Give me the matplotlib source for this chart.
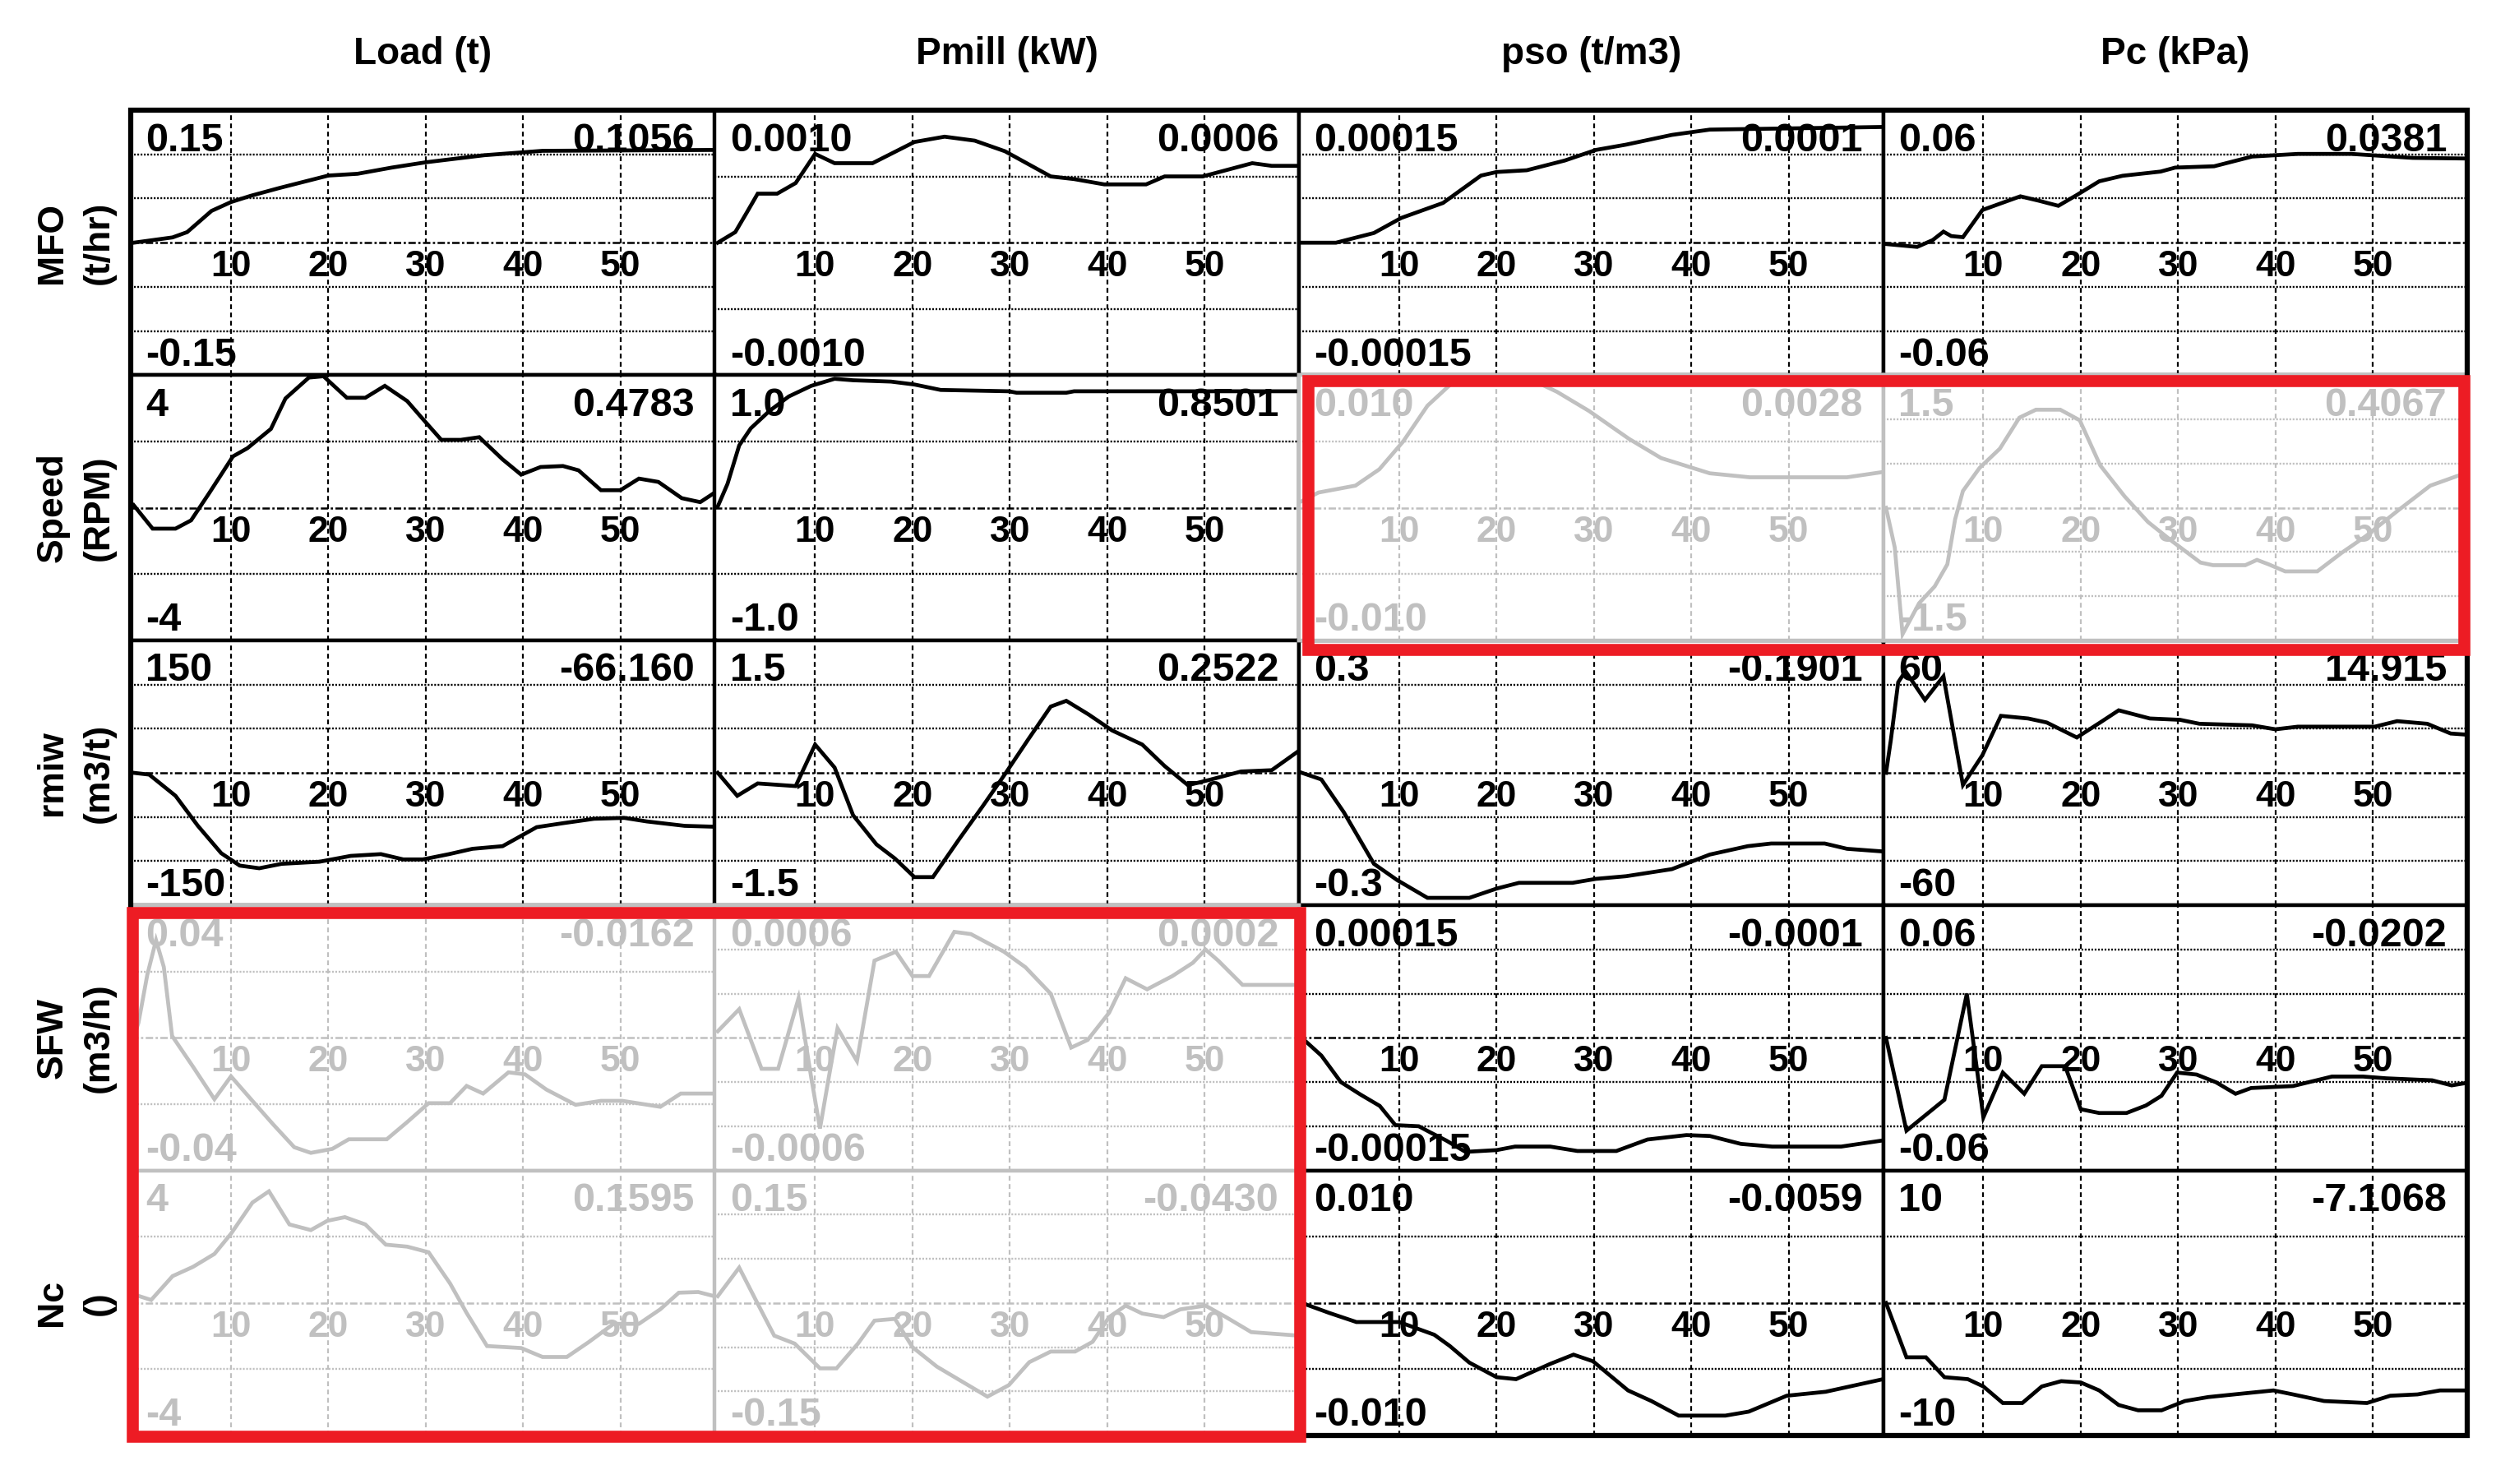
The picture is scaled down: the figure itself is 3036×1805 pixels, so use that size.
import matplotlib
matplotlib.use("Agg")
import matplotlib.pyplot as plt
from matplotlib.patches import Rectangle

plt.rcParams['font.family'] = ['Liberation Sans', 'DejaVu Sans']
plt.rcParams['font.weight'] = 'bold'

# column (input) and row (output) names
inputs = ["Load (t)", "Pmill (kW)", "pso (t/m3)", "Pc (kPa)"]
outputs = ["MFO", "Speed", "rmiw", "SFW", "Nc"]
output_units = ["(t/hr)", "(RPM)", "(m3/t)", "(m3/h)", "()"]

# axis limits (+/-) and grid spacing for each cell
y_max = [[0.15, 0.0010, 0.00015, 0.06],
         [4, 1.0, 0.010, 1.5],
         [150, 1.5, 0.3, 60],
         [0.04, 0.0006, 0.00015, 0.06],
         [4, 0.15, 0.010, 10]]
grid_step = [[0.05, 0.0005, 0.00005, 0.02],
             [2, 0.5, 0.005, 0.5],
             [50, 0.5, 0.1, 20],
             [0.02, 0.0002, 0.00005, 0.02],
             [2, 0.05, 0.005, 5]]

max_text = [["0.15", "0.0010", "0.00015", "0.06"],
            ["4", "1.0", "0.010", "1.5"],
            ["150", "1.5", "0.3", "60"],
            ["0.04", "0.0006", "0.00015", "0.06"],
            ["4", "0.15", "0.010", "10"]]
min_text = [["-0.15", "-0.0010", "-0.00015", "-0.06"],
            ["-4", "-1.0", "-0.010", "-1.5"],
            ["-150", "-1.5", "-0.3", "-60"],
            ["-0.04", "-0.0006", "-0.00015", "-0.06"],
            ["-4", "-0.15", "-0.010", "-10"]]
final_text = [["0.1056", "0.0006", "0.0001", "0.0381"],
              ["0.4783", "0.8501", "0.0028", "0.4067"],
              ["-66.160", "0.2522", "-0.1901", "14.915"],
              ["-0.0162", "0.0002", "-0.0001", "-0.0202"],
              ["0.1595", "-0.0430", "-0.0059", "-7.1068"]]

x_ticks = [10, 20, 30, 40, 50]

# greyed-out cells (row, col)
greyed = [(1, 2), (1, 3), (3, 0), (3, 1), (4, 0), (4, 1)]

# step responses
t_mfo_load = [0, 2, 4, 5.5, 8, 10, 12, 15, 20, 23, 26.5, 30, 33, 36, 42, 60]
y_mfo_load = [0, 0.003, 0.006, 0.012, 0.036, 0.046, 0.053, 0.062, 0.076, 0.078, 0.085, 0.091, 0.095, 0.099, 0.104, 0.105]

t_mfo_pmill = [0, 1.8, 3, 4.1, 6.1, 8, 10, 12, 15.9, 20.2, 23.3, 26.4, 29.5, 34.2, 36.6, 39.7, 44, 45.9, 49.8, 54.9, 56.9, 59.7]
y_mfo_pmill = [0, 0.00008, 0.00023, 0.00037, 0.00037, 0.00045, 0.00067, 0.0006, 0.0006, 0.00076, 0.0008, 0.00077,
               0.00069, 0.0005, 0.00048, 0.00044, 0.00044, 0.0005, 0.0005, 0.0006, 0.00058, 0.00058]

t_mfo_pso = [0, 3.5, 7.4, 10.2, 14.5, 18.4, 20, 23.1, 27, 30.2, 33.3, 38, 41.9, 59.7]
y_mfo_pso = [0, 0, 0.000011, 0.000028, 0.000045, 0.000076, 0.00008, 0.000082, 0.000093, 0.000105, 0.000111,
             0.000122, 0.000128, 0.000131]

t_mfo_pc = [0, 3.2, 4.8, 5.9, 6.7, 7.9, 9.9, 13.8, 15.7, 17.7, 19.6, 21.9, 24.3, 28.2, 29.7, 33.7, 37.6, 42.3, 47.8, 54.1, 59.9]
y_mfo_pc = [-0.0006, -0.0019, 0.0012, 0.005, 0.003, 0.0025, 0.0148, 0.021, 0.019, 0.0167, 0.0216, 0.0278, 0.0303,
            0.0322, 0.034, 0.0346, 0.039, 0.0402, 0.0402, 0.0384, 0.0381]

t_speed_load = [0, 1.95, 4.3, 5.9, 7.8, 10.2, 11.7, 14.1, 15.6, 18, 19.5, 21.9, 23.8, 25.8, 28.1, 29.7, 31.6, 33.6,
                35.5, 37.9, 39.8, 41.8, 44.1, 45.7, 48, 50, 51.9, 53.9, 56.3, 58.2, 59.7]
y_speed_load = [0.08, -0.63, -0.63, -0.38, 0.46, 1.55, 1.8, 2.38, 3.3, 3.93, 3.97, 3.32, 3.32, 3.68, 3.22, 2.68, 2.05,
                2.05, 2.13, 1.46, 1.0, 1.23, 1.26, 1.13, 0.53, 0.53, 0.88, 0.78, 0.29, 0.17, 0.46]

t_speed_pmill = [0, 1, 2.2, 3.4, 5.3, 7.3, 9.6, 12, 13.9, 17.8, 20.2, 22.9, 29.9, 30.7, 35.8, 36.6, 59.7]
y_speed_pmill = [0.01, 0.18, 0.47, 0.6, 0.73, 0.84, 0.92, 0.973, 0.962, 0.952, 0.93, 0.889, 0.879, 0.868, 0.868, 0.879, 0.879]

t_speed_pso = [0, 1.7, 5.5, 7.95, 10.4, 12.9, 15.4, 16.6, 22.9, 26.2, 29.5, 33.6, 36.9, 41.9, 46, 56, 59.7]
y_speed_pso = [0.0005, 0.00115, 0.00167, 0.0029, 0.005, 0.0077, 0.0094, 0.0099, 0.0099, 0.00875, 0.0073, 0.0052,
               0.00375, 0.0026, 0.0023, 0.0023, 0.0027]

t_speed_pc = [0, 0.9, 1.7, 3.4, 5, 6.3, 7.1, 7.9, 9.6, 11.7, 13.7, 15.4, 17.9, 19.9, 22, 24.5, 26.9, 29.4, 32.3, 33.6,
              36.9, 38.1, 39.3, 41, 44.3, 46.8, 49.3, 52.6, 55.9, 59.7]
y_speed_pc = [0, -0.45, -1.43, -1.08, -0.89, -0.64, -0.13, 0.19, 0.45, 0.67, 1.02, 1.11, 1.11, 0.99, 0.48, 0.13, -0.16,
              -0.38, -0.62, -0.65, -0.65, -0.59, -0.64, -0.72, -0.72, -0.51, -0.32, -0.03, 0.25, 0.4]

t_rmiw_load = [0, 1.6, 4.3, 6.6, 9, 10.9, 12.9, 15.2, 19.1, 22.3, 25.4, 27.7, 29.7, 32.4, 34.8, 37.9, 41.4, 44.1,
               47.3, 50.4, 52.7, 56.6, 59.7]
y_rmiw_load = [0, -2, -26, -60, -91, -105, -108, -103, -100.6, -94, -92, -98, -98, -92, -86, -83, -61.5, -57, -52,
               -51, -55, -60, -61]

t_rmiw_pmill = [0, 2, 4.1, 8, 10, 12, 13.9, 16.3, 18.2, 20.2, 22.1, 24.8, 27.2, 29.5, 31.9, 34.2, 35.8, 38.1, 40.5,
                43.6, 45.9, 48.3, 50.6, 53.75, 56.9, 59.7]
y_rmiw_pmill = [0, -0.26, -0.12, -0.15, 0.32, 0.06, -0.48, -0.81, -0.97, -1.18, -1.18, -0.75, -0.38, -0.015, 0.38,
                0.75, 0.815, 0.66, 0.48, 0.32, 0.077, -0.14, -0.077, 0.015, 0.03, 0.25]

t_rmiw_pso = [0, 2, 4.3, 7.4, 9.8, 12.9, 17.2, 20, 22.3, 27.8, 30.2, 33.3, 38, 41.9, 45.8, 48.2, 53.7, 56, 59.7]
y_rmiw_pso = [0.0, -0.015, -0.089, -0.206, -0.243, -0.283, -0.283, -0.262, -0.249, -0.249, -0.24, -0.234, -0.218,
              -0.185, -0.166, -0.16, -0.16, -0.172, -0.178]

t_rmiw_pc = [0, 0.5, 1.25, 2, 4, 5.9, 7.9, 9.9, 11.8, 14.6, 16.5, 19.6, 22, 23.9, 27.1, 30.2, 32.2, 37.6, 40, 42.3,
             50.2, 52.5, 55.6, 58, 59.9]
y_rmiw_pc = [0, 15, 41, 46, 33, 43.7, -5.5, 8, 25.8, 24.6, 22.8, 16, 22.8, 28.3, 24.6, 24, 22.2, 21.5, 19.7, 20.9,
             20.9, 23.4, 22.2, 17.8, 17.2]

t_sfw_load = [0, 0.5, 1.4, 2.3, 3.1, 3.95, 6.1, 8.3, 10, 12.2, 14.3, 16.5, 18.2, 20.4, 22.1, 26, 28.1, 30.3, 32.5,
              34.2, 35.9, 38.5, 40.2, 42.4, 45.4, 48, 50.2, 54.1, 56.2, 59.7]
y_sfw_load = [0, 0.0046, 0.019, 0.0295, 0.0214, 0.0006, -0.0087, -0.0185, -0.0116, -0.019, -0.026, -0.033, -0.0347,
              -0.0335, -0.0306, -0.0306, -0.0254, -0.0197, -0.0197, -0.0145, -0.0168, -0.0104, -0.011, -0.0156,
              -0.0202, -0.019, -0.019, -0.0208, -0.0168, -0.0168]

t_sfw_pmill = [0, 2.2, 4.5, 6.2, 8.3, 9.6, 10.5, 11.4, 12.3, 14.3, 16.1, 18.3, 20, 21.7, 24.3, 26, 29.4, 31.6, 34.2,
               36.3, 38, 40.2, 41.9, 44.1, 46.7, 48.8, 50.1, 51.4, 53.9, 59.7]
y_sfw_pmill = [0.00003, 0.00013, -0.00014, -0.00014, 0.00018, -0.00018, -0.00041, -0.00018, 0.000044, -0.000105,
               0.00035, 0.00039, 0.00028, 0.00028, 0.00048, 0.00047, 0.00039, 0.00032, 0.0002, -0.000044,
               -0.000009, 0.000114, 0.00027, 0.00022, 0.00028, 0.00034, 0.0004, 0.00035, 0.00024, 0.00024]

t_sfw_pso = [0, 2, 4, 6, 8, 9.6, 12, 13.2, 14.8, 16.8, 20, 21.9, 25.5, 28.3, 32.3, 35.5, 39.5, 41.9, 45.1, 48.3, 55.4, 59.7]
y_sfw_pso = [0, -0.00002, -0.00005, -0.000064, -0.000077, -0.0000987, -0.0001, -0.000107, -0.000116, -0.000129,
             -0.000127, -0.000123, -0.000123, -0.000128, -0.000128, -0.000115, -0.00011, -0.000111, -0.00012,
             -0.000123, -0.000123, -0.000116]

t_sfw_pc = [0, 2.1, 6, 8.3, 10, 12, 14.2, 16, 18.4, 20, 21.9, 24.7, 26.7, 28.3, 29.9, 31.9, 33.9, 35.9, 37.5, 41.8,
            45.8, 49, 51.4, 56.1, 58.1, 60]
y_sfw_pc = [0, -0.042, -0.028, 0.020, -0.036, -0.0157, -0.0253, -0.0128, -0.0128, -0.0323, -0.034, -0.034, -0.0306,
            -0.0262, -0.0157, -0.0166, -0.0201, -0.0253, -0.0227, -0.0218, -0.0175, -0.0175, -0.0183, -0.0192,
            -0.0215, -0.0201]

t_nc_load = [0, 1.8, 4, 6.1, 8.3, 10, 12.2, 13.9, 16, 18.2, 19.9, 21.7, 23.8, 25.9, 28.1, 30.3, 32.5, 34.2, 36.3,
             39.8, 42, 44.5, 46.7, 49.3, 51.9, 54.1, 56, 58, 59.7]
y_nc_load = [0.26, 0.09, 0.81, 1.09, 1.48, 2.09, 3.03, 3.37, 2.37, 2.2, 2.48, 2.59, 2.37, 1.76, 1.7, 1.53, 0.59,
             -0.3, -1.3, -1.36, -1.63, -1.63, -1.19, -0.63, -0.63, -0.19, 0.31, 0.33, 0.2]

t_nc_pmill = [0, 2.2, 4, 5.8, 7.9, 10.5, 12.2, 14.4, 16.1, 18.2, 20, 22.5, 25.1, 27.7, 29.9, 32, 34.2, 36.7, 38.5,
              40.2, 41.9, 43.6, 45.8, 47.5, 50.1, 52.2, 54.8, 59.7]
y_nc_pmill = [0.0077, 0.04, 0.0013, -0.037, -0.046, -0.074, -0.074, -0.046, -0.02, -0.018, -0.05, -0.072, -0.089,
              -0.106, -0.093, -0.067, -0.055, -0.055, -0.044, -0.016, -0.003, -0.012, -0.016, -0.0073, -0.003,
              -0.016, -0.033, -0.037]

t_nc_pso = [0, 2.8, 5.6, 10, 13.6, 15.2, 17.2, 20, 22, 25.5, 27.9, 29.9, 33.5, 35.9, 38.7, 43.5, 45.9, 49.8, 53.8, 59.7]
y_nc_pso = [0, -0.00075, -0.00144, -0.00144, -0.0024, -0.00325, -0.0045, -0.0056, -0.00575, -0.0046, -0.0039,
            -0.0044, -0.0066, -0.0074, -0.0085, -0.0085, -0.0082, -0.007, -0.0067, -0.00575]

t_nc_pc = [0, 2.1, 4.1, 6, 8.4, 10, 12, 14, 16, 18, 20, 21.9, 23.9, 25.9, 28.3, 30.7, 33.1, 37.1, 39.8, 41.8, 45,
           49.4, 51.8, 54.6, 56.9, 60]
y_nc_pc = [0, -4.1, -4.1, -5.6, -5.75, -6.3, -7.55, -7.55, -6.3, -5.9, -6.0, -6.6, -7.7, -8.1, -8.1, -7.4, -7.1,
           -6.8, -6.6, -6.9, -7.4, -7.55, -7.0, -6.9, -6.6, -6.6]

curves = [[(t_mfo_load, y_mfo_load), (t_mfo_pmill, y_mfo_pmill), (t_mfo_pso, y_mfo_pso), (t_mfo_pc, y_mfo_pc)],
          [(t_speed_load, y_speed_load), (t_speed_pmill, y_speed_pmill), (t_speed_pso, y_speed_pso), (t_speed_pc, y_speed_pc)],
          [(t_rmiw_load, y_rmiw_load), (t_rmiw_pmill, y_rmiw_pmill), (t_rmiw_pso, y_rmiw_pso), (t_rmiw_pc, y_rmiw_pc)],
          [(t_sfw_load, y_sfw_load), (t_sfw_pmill, y_sfw_pmill), (t_sfw_pso, y_sfw_pso), (t_sfw_pc, y_sfw_pc)],
          [(t_nc_load, y_nc_load), (t_nc_pmill, y_nc_pmill), (t_nc_pso, y_nc_pso), (t_nc_pc, y_nc_pc)]]

# layout in pixels
W, H = 3036, 1805
left, top = 159, 134
cw, rh = 710.5, 322.4
GREY = "#c0c0c0"
RED = "#ed1c24"

fig = plt.figure(figsize=(W / 100, H / 100), dpi=100)
fig.patch.set_facecolor("white")

for r in range(5):
    for c in range(4):
        grey = (r, c) in greyed
        col = GREY if grey else "black"
        x0 = left + c * cw
        y0 = top + r * rh
        ax = fig.add_axes([x0 / W, 1 - (y0 + rh) / H, cw / W, rh / H])
        ax.set_zorder(2 if grey else 1)
        ym = y_max[r][c]
        ax.set_xlim(-0.3, 59.7)
        ax.set_ylim(-ym, ym)
        ax.set_xticks([])
        ax.set_yticks([])
        for s in ax.spines.values():
            s.set_color(col)
            s.set_linewidth(3.2)

        # grid
        step = grid_step[r][c]
        k = 1
        while k * step < ym * 0.999:
            for yy in (k * step, -k * step):
                ax.axhline(yy, color=col, lw=1.7, dashes=(0.9, 0.8), zorder=1)
            k += 1
        ax.axhline(0, color=col, lw=1.8, dashes=(3.6, 1.2, 1.1, 1.2), zorder=1)
        for xt in x_ticks:
            ax.axvline(xt, color=col, lw=1.6, dashes=(2.6, 1.9), zorder=1)
            ax.annotate(str(xt), xy=(xt, 0), xytext=(0, -9), textcoords="offset pixels",
                        ha="center", va="top", fontsize=32, color=col, zorder=3)

        t, y = curves[r][c]
        ax.plot(t, y, color=col, lw=3.4, zorder=2, solid_joinstyle="miter")

        ax.text(0.026, 0.955, max_text[r][c], transform=ax.transAxes, ha="left", va="top",
                fontsize=35, color=col, zorder=3)
        ax.text(0.026, 0.036, min_text[r][c], transform=ax.transAxes, ha="left", va="baseline",
                fontsize=35, color=col, zorder=3)
        ax.text(0.965, 0.955, final_text[r][c], transform=ax.transAxes, ha="right", va="top",
                fontsize=35, color=col, zorder=3)

# column headers
for c, name in enumerate(inputs):
    fig.text((left + (c + 0.5) * cw) / W, 1 - 66 / H, name, ha="center", va="center", fontsize=33)

# row labels
for r in range(5):
    yc = 1 - (top + (r + 0.5) * rh) / H
    fig.text(64 / W, yc, outputs[r], rotation=90, ha="center", va="center", fontsize=32)
    fig.text(120 / W, yc, output_units[r], rotation=90, ha="center", va="center", fontsize=32)

# overlay: outer frame and red highlight boxes
ov = fig.add_axes([0, 0, 1, 1])
ov.set_zorder(5)
ov.patch.set_alpha(0)
ov.set_xlim(0, W)
ov.set_ylim(H, 0)
ov.axis("off")
ov.add_patch(Rectangle((left, top), 4 * cw, 5 * rh, fill=False, ec="black", lw=4.5))
ov.add_patch(Rectangle((1591, 463), 2997 - 1591, 790 - 463, fill=False, ec=RED, lw=10.5))
ov.add_patch(Rectangle((161, 1110), 1581 - 161, 1747 - 1110, fill=False, ec=RED, lw=10.5))

fig.savefig("out.png", dpi=100, facecolor="white")
